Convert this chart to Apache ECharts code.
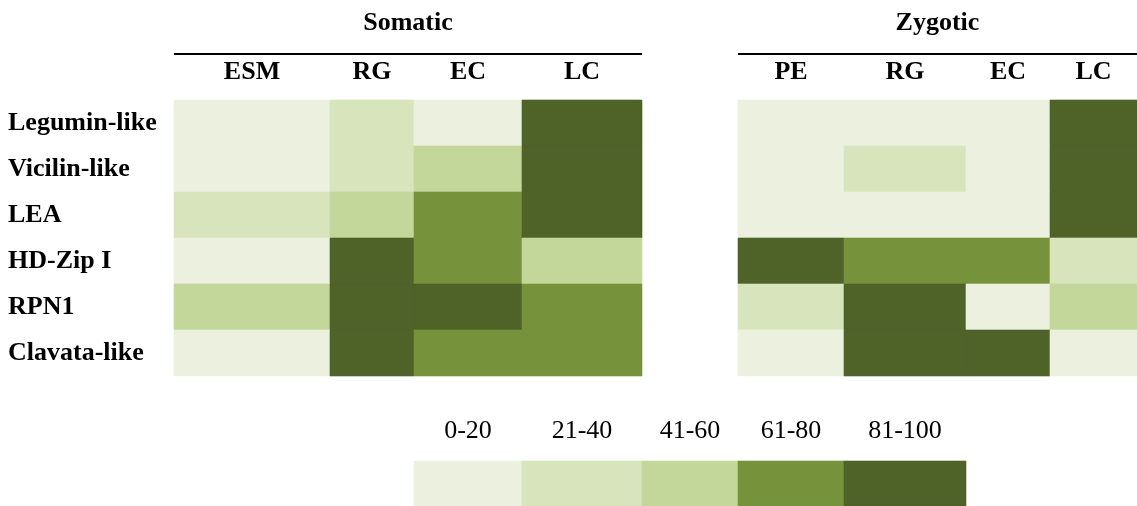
<!DOCTYPE html>
<html>
<head>
<meta charset="utf-8">
<script src="https://cdn.jsdelivr.net/npm/echarts@6/dist/echarts.min.js"></script>
<style>html,body{margin:0;padding:0;background:#fff;}#main{width:1137px;height:506px;}</style>
</head>
<body>
<div id="main"></div>
<script>
// ---- data ----
const genes = ['Legumin-like', 'Vicilin-like', 'LEA', 'HD-Zip I', 'RPN1', 'Clavata-like'];
const groupNames = ['Somatic', 'Zygotic'];
const somaticStages = ['ESM', 'RG', 'EC', 'LC'];
const zygoticStages = ['PE', 'RG', 'EC', 'LC'];
// expression class index per gene (0 = 0-20, 1 = 21-40, 2 = 41-60, 3 = 61-80, 4 = 81-100)
const somaticLevels = [
  [0, 1, 0, 4],
  [0, 1, 2, 4],
  [1, 2, 3, 4],
  [0, 4, 3, 2],
  [2, 4, 4, 3],
  [0, 4, 3, 3]
];
const zygoticLevels = [
  [0, 0, 0, 4],
  [0, 1, 0, 4],
  [0, 0, 0, 4],
  [4, 3, 3, 1],
  [1, 4, 0, 2],
  [0, 4, 4, 0]
];
const levelLabels = ['0-20', '21-40', '41-60', '61-80', '81-100'];

// ---- style / layout ----
const COLORS = ['#EBF1DE', '#D8E4BC', '#C4D79B', '#76933C', '#4F6228'];
const COL_W = [156, 84, 108, 120, 96, 106, 122, 84, 87]; // table column widths (units)
const SOM_START = 0, ZYG_START = 5, LEG_START = 2;
const FONT = '"Liberation Serif", "Times New Roman", serif';
const FS = 26;

const edges = [0];
COL_W.forEach(w => edges.push(edges[edges.length - 1] + w));
const TOTAL = edges[edges.length - 1];

const cellData = [];
genes.forEach((g, r) => {
  somaticStages.forEach((s, c) => cellData.push([SOM_START + c, r, somaticLevels[r][c]]));
  zygoticStages.forEach((s, c) => cellData.push([ZYG_START + c, r, zygoticLevels[r][c]]));
});
const legendData = levelLabels.map((l, i) => [LEG_START + i, 0, i]);

function cellRect(api, col, row) {
  const a = api.coord([edges[col], row]);
  const b = api.coord([edges[col + 1], row]);
  const h = api.size([0, 1])[1];
  const x0 = Math.round(a[0]), x1 = Math.round(b[0]);
  const y0 = Math.round(a[1] - h / 2), y1 = Math.round(a[1] + h / 2);
  return { x: x0, y: y0, width: x1 - x0, height: y1 - y0 };
}
function renderCell(params, api) {
  const lvl = api.value(2);
  return {
    type: 'rect',
    shape: cellRect(api, api.value(0), api.value(1)),
    style: { fill: COLORS[lvl], stroke: COLORS[lvl], lineWidth: 0.6 }
  };
}
function renderLegend(params, api) {
  const lvl = api.value(2);
  const r = cellRect(api, api.value(0), api.value(1));
  return {
    type: 'group',
    children: [
      { type: 'rect', shape: r, style: { fill: COLORS[lvl], stroke: COLORS[lvl], lineWidth: 0.6 } },
      { type: 'text', style: { text: levelLabels[lvl], x: r.x + r.width / 2, y: r.y - 29.5,
        font: FS + 'px ' + FONT, fill: '#000', align: 'center', verticalAlign: 'middle' } }
    ]
  };
}

const chart = echarts.init(document.getElementById('main'));
chart.setOption({
  animation: false,
  backgroundColor: '#fff',
  grid: [
    { left: 174, top: 100, width: TOTAL, height: 276 },
    { left: 174, top: 461, width: TOTAL, height: 46 }
  ],
  xAxis: [
    { gridIndex: 0, type: 'value', min: 0, max: TOTAL, show: false },
    { gridIndex: 1, type: 'value', min: 0, max: TOTAL, show: false }
  ],
  yAxis: [
    { gridIndex: 0, type: 'category', data: genes, inverse: true,
      axisLine: { show: false }, axisTick: { show: false }, splitLine: { show: false },
      axisLabel: { align: 'left', margin: 166, fontFamily: FONT, fontSize: FS, fontWeight: 'bold',
        color: '#000', padding: [0, 0, 15, 0] } },
    { gridIndex: 1, type: 'category', data: [''], show: false }
  ],
  series: [
    { type: 'custom', xAxisIndex: 0, yAxisIndex: 0, renderItem: renderCell, data: cellData,
      encode: { x: 0, y: 1 }, silent: true },
    { type: 'custom', xAxisIndex: 1, yAxisIndex: 1, renderItem: renderLegend, data: legendData,
      encode: { x: 0, y: 1 }, silent: true, clip: false }
  ]
});

// headers (positioned through the x axis scale)
const px = v => Math.round(chart.convertToPixel({ xAxisIndex: 0 }, v));
const graphics = [];
const groups = [[SOM_START, somaticStages], [ZYG_START, zygoticStages]];
groups.forEach(([start, stages], gi) => {
  const x0 = px(edges[start]);
  const x1 = px(edges[start + stages.length]);
  graphics.push({ type: 'text', x: (x0 + x1) / 2, y: 23.5,
    style: { text: groupNames[gi], font: 'bold ' + FS + 'px ' + FONT, fill: '#000', align: 'center', verticalAlign: 'middle' } });
  graphics.push({ type: 'line', shape: { x1: x0, y1: 54, x2: x1, y2: 54 },
    style: { stroke: '#000', lineWidth: 2 } });
  stages.forEach((s, i) => {
    const c = (px(edges[start + i]) + px(edges[start + i + 1])) / 2;
    graphics.push({ type: 'text', x: c, y: 72,
      style: { text: s, font: 'bold ' + FS + 'px ' + FONT, fill: '#000', align: 'center', verticalAlign: 'middle' } });
  });
});
chart.setOption({ graphic: graphics });
</script>
</body>
</html>
